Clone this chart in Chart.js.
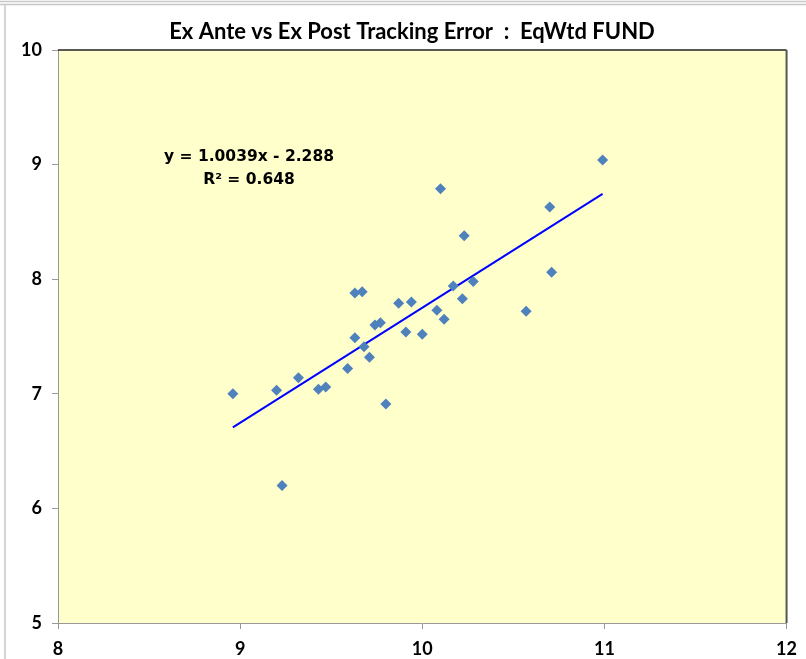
<!DOCTYPE html>
<html>
<head>
<meta charset="utf-8">
<script src="https://cdn.jsdelivr.net/npm/chart.js@4"></script>
<style>
  html, body { margin: 0; padding: 0; background: #fff; }
  #wrap { width: 806px; height: 659px; position: relative; }
</style>
</head>
<body>
<div id="wrap"><canvas id="chart" width="806" height="659"></canvas></div>
<script>
// ex ante (x) vs ex post (y) tracking error
const exAnte = [8.96, 9.20, 9.32, 9.43, 9.47, 9.59, 9.63, 9.67, 9.63, 9.68,
  9.71, 9.74, 9.77, 9.80, 9.87, 9.94, 9.91, 10.00, 10.08, 10.12,
  10.17, 10.22, 10.28, 10.10, 10.23, 10.70, 10.99, 10.71, 10.57, 9.23];
const exPost = [7.00, 7.03, 7.14, 7.04, 7.06, 7.22, 7.88, 7.89, 7.49, 7.41,
  7.32, 7.60, 7.62, 6.91, 7.79, 7.80, 7.54, 7.52, 7.73, 7.65,
  7.94, 7.83, 7.98, 8.79, 8.38, 8.63, 9.04, 8.06, 7.72, 6.20];
const slope = 1.0039;
const intercept = -2.288;
const rSquared = "0.648";
const xTicks = [8, 9, 10, 11, 12];
const yTicks = [5, 6, 7, 8, 9, 10];

const points = exAnte.map((x, i) => ({ x: x, y: exPost[i] }));
const xMin = Math.min(...exAnte);
const xMax = Math.max(...exAnte);
const trend = [
  { x: xMin, y: slope * xMin + intercept },
  { x: xMax, y: slope * xMax + intercept }
];

const framePlugin = {
  id: "frame",
  beforeDraw(chart) {
    const { ctx, chartArea: a } = chart;
    ctx.save();
    // outer sheet lines
    ctx.strokeStyle = "#c8c8c8";
    ctx.lineWidth = 1.5;
    ctx.beginPath();
    ctx.moveTo(0, 1.5); ctx.lineTo(806, 1.5);
    ctx.moveTo(0, 4.5); ctx.lineTo(806, 4.5);
    ctx.moveTo(5, 5); ctx.lineTo(5, 659);
    ctx.stroke();
    // plot background
    ctx.fillStyle = "#FFFFCC";
    ctx.fillRect(a.left, a.top, a.right - a.left, a.bottom - a.top);
    ctx.restore();
  },
  afterDraw(chart) {
    const { ctx, chartArea: a } = chart;
    ctx.save();
    ctx.strokeStyle = "#222";
    ctx.lineWidth = 1.5;
    ctx.beginPath();
    ctx.moveTo(a.left, a.top); ctx.lineTo(a.right, a.top);
    ctx.stroke();
    ctx.strokeStyle = "#555";
    ctx.lineWidth = 2;
    ctx.beginPath();
    ctx.moveTo(a.right, a.top); ctx.lineTo(a.right, a.bottom);
    ctx.stroke();

    // title
    ctx.fillStyle = "#000";
    ctx.font = "bold 22px Lato";
    ctx.textAlign = "center";
    ctx.textBaseline = "alphabetic";
    ctx.fillText("Ex Ante vs Ex Post Tracking Error  :  EqWtd FUND", 412, 39);

    // trendline equation
    ctx.font = "bold 15.5px 'DejaVu Sans'";
    const sign = intercept < 0 ? " - " : " + ";
    ctx.fillText("y = " + slope.toFixed(4) + "x" + sign + Math.abs(intercept).toFixed(3), 249, 161);
    ctx.fillText("R\u00B2 = " + rSquared, 249, 184);
    ctx.restore();
  }
};

new Chart(document.getElementById("chart").getContext("2d"), {
  type: "scatter",
  data: {
    datasets: [
      {
        label: "EqWtd FUND",
        data: points,
        pointStyle: "rectRot",
        pointRadius: 5.5,
        pointHoverRadius: 5.5,
        backgroundColor: "#4F81BD",
        borderColor: "#4F81BD",
        borderWidth: 0
      },
      {
        type: "line",
        label: "Trend",
        data: trend,
        borderColor: "#0000FF",
        borderWidth: 2,
        pointRadius: 0,
        fill: false
      }
    ]
  },
  options: {
    responsive: false,
    animation: false,
    layout: { padding: { top: 50, right: 17, left: 0, bottom: 0 } },
    plugins: {
      legend: { display: false },
      title: { display: false },
      tooltip: { enabled: false }
    },
    scales: {
      x: {
        type: "linear",
        min: xTicks[0],
        max: xTicks[xTicks.length - 1],
        afterBuildTicks: s => { s.ticks = xTicks.map(v => ({ value: v })); },
        afterFit: s => { s.height = 36; },
        grid: { drawOnChartArea: false, color: "#999", tickLength: 6 },
        border: { color: "#999", width: 1 },
        ticks: { color: "#000", padding: 9, font: { family: "Lato", weight: "bold", size: 18 } }
      },
      y: {
        type: "linear",
        min: yTicks[0],
        max: yTicks[yTicks.length - 1],
        afterBuildTicks: s => { s.ticks = yTicks.map(v => ({ value: v })); },
        afterFit: s => { s.width = 58; },
        grid: { drawOnChartArea: false, color: "#999", tickLength: 6 },
        border: { color: "#999", width: 1 },
        ticks: { color: "#000", padding: 10, font: { family: "Lato", weight: "bold", size: 18 } }
      }
    }
  },
  plugins: [framePlugin]
});
</script>
</body>
</html>
